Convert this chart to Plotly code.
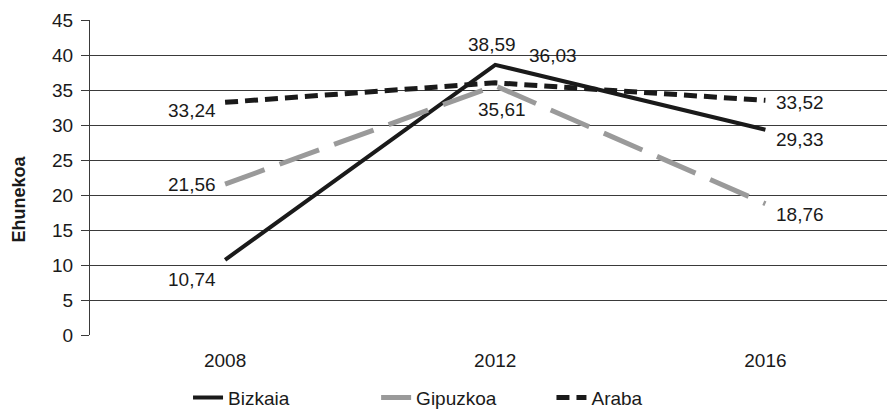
import plotly.graph_objects as go

years = ["2008", "2012", "2016"]
bizkaia = [10.74, 38.59, 29.33]
gipuzkoa = [21.56, 35.61, 18.76]
araba = [33.24, 36.03, 33.52]

def fmt(v):
    return f"{v:.2f}".replace(".", ",")

font = "Liberation Sans, Arial, sans-serif"
fs = 19
fig = go.Figure()
fig.add_trace(go.Scatter(x=years, y=bizkaia, name="Bizkaia", mode="lines", legend="legend",
                         line=dict(color="#1a1a1a", width=4)))
fig.add_trace(go.Scatter(x=years, y=gipuzkoa, name="Gipuzkoa", mode="lines", legend="legend2",
                         line=dict(color="#9a9a9a", width=5, dash="42px,16px")))
fig.add_trace(go.Scatter(x=years, y=araba, name="Araba", mode="lines", legend="legend3",
                         line=dict(color="#1a1a1a", width=5, dash="13px,7px")))

shifts = {
    "Bizkaia": [(-33, -20), (-3, 20), (35, -10)],
    "Gipuzkoa": [(-33, 0), (7, -24), (35, -11)],
    "Araba": [(-33, -8), (58, 27), (35, -2)],
}
series = {"Bizkaia": bizkaia, "Gipuzkoa": gipuzkoa, "Araba": araba}
anns = []
for name, vals in series.items():
    for i, v in enumerate(vals):
        dx, dy = shifts[name][i]
        anns.append(dict(x=i, y=v, xref="x", yref="y", text=fmt(v), showarrow=False,
                         xshift=dx, yshift=dy, font=dict(size=fs, color="#1a1a1a")))
anns.append(dict(x=0, y=0.5, xref="paper", yref="paper", text="<b>Ehunekoa</b>", showarrow=False,
                 textangle=-90, xanchor="center", yanchor="middle", xshift=-72, yshift=-22,
                 font=dict(size=18, color="#1a1a1a")))

leg = dict(orientation="h", yref="container", yanchor="middle", y=0.03, xanchor="left",
           font=dict(size=fs), bgcolor="rgba(0,0,0,0)")
fig.update_layout(
    width=887, height=410,
    margin=dict(l=90, r=0, t=20, b=75),
    paper_bgcolor="white", plot_bgcolor="white",
    font=dict(family=font, size=fs, color="#1a1a1a"),
    showlegend=True,
    annotations=anns,
    legend=dict(leg, x=0.123),
    legend2=dict(leg, x=0.359),
    legend3=dict(leg, x=0.579),
    xaxis=dict(type="category", range=[-0.5, 2.45], showgrid=False, showline=False,
               ticks="", tickfont=dict(size=fs), zeroline=False, automargin=False,
               ticklabelstandoff=12),
    yaxis=dict(range=[0, 45], dtick=5, showgrid=True, gridcolor="#3a3a3a", gridwidth=1,
               showline=True, linecolor="#3a3a3a", linewidth=1, ticks="outside",
               ticklen=8, tickcolor="#3a3a3a", tickfont=dict(size=fs), zeroline=False,
               automargin=False, ticklabelstandoff=4),
)
fig.write_html("out.html", config={"displayModeBar": False},
               post_script="document.body.style.margin='0';")
